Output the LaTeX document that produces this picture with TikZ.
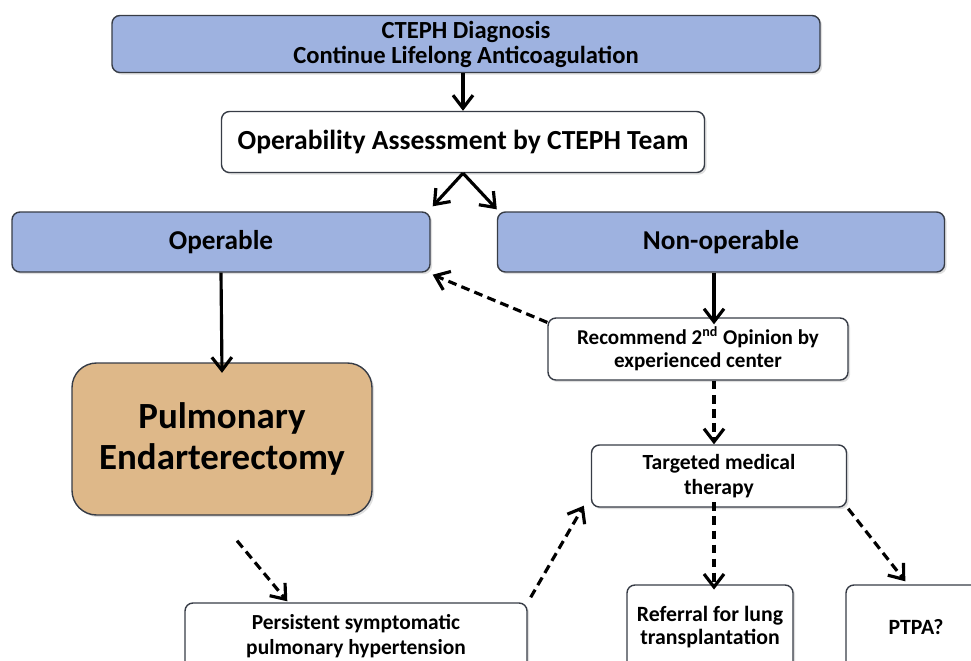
\documentclass[tikz,border=0pt]{standalone}
\usepackage{fontspec}
\setmainfont{Carlito}
\usetikzlibrary{arrows.meta,shadows}
\definecolor{BoxBlue}{RGB}{158,178,224}
\definecolor{BoxTan}{RGB}{222,184,137}
\definecolor{BoxEdge}{RGB}{55,60,70}
\newcommand{\lw}{1.8pt}

\begin{document}
\begin{tikzpicture}[x=0.02cm, y=-0.02cm,
  box/.style={draw=BoxEdge, line width=0.8pt, rounded corners=4.5pt, align=center,
    inner sep=0pt, drop shadow={shadow xshift=1.2pt, shadow yshift=-1.2pt, opacity=0.25}},
  bluebox/.style={box, fill=BoxBlue},
  whitebox/.style={box, fill=white},
  wh/.style 2 args={minimum width=#1*0.02cm, minimum height=#2*0.02cm},
  fs/.style 2 args={font=\bfseries\fontsize{#1}{#2}\selectfont},
  arr/.style={line width=\lw, -{Straight Barb[length=2.6mm,width=4mm]}},
  dasharr/.style={arr, dash pattern=on 5pt off 3pt}]
  \clip (0,0) rectangle (971,660);
  % top row
  \node[bluebox, wh={708}{57}, fs={14}{14.2}] (diag) at (466,44) {CTEPH Diagnosis\\Continue Lifelong Anticoagulation};
  \node[whitebox, wh={483}{61}, fs={15.7}{17}] (assess) at (463,142) {Operability Assessment by CTEPH Team};
  \node[bluebox, wh={418}{60}, fs={15.5}{17}] (oper) at (221,242) {Operable};
  \node[bluebox, wh={447}{60}, fs={15.5}{17}] (nonop) at (721,242) {Non-operable};
  % left branch
  \node[box, fill=BoxTan, rounded corners=14pt, wh={300}{152}, fs={21}{23.5}] (pea) at (222,439) {Pulmonary\\Endarterectomy};
  \node[whitebox, wh={342}{66}, fs={12.2}{14.2}] (persist) at (356,636) {Persistent symptomatic\\pulmonary hypertension};
  % right branch
  \coordinate (col) at (714,0);
  \node[whitebox, wh={300}{62}, fs={12}{13.2}] (second) at (698,349) {Recommend 2\textsuperscript{nd} Opinion by\\experienced center};
  \node[whitebox, wh={255}{62}, fs={12.3}{14}] (tmt) at (719,476) {Targeted medical\\therapy};
  \node[whitebox, wh={166}{84}, fs={12.4}{13.2}] (lung) at (710,627) {Referral for lung\\transplantation};
  \node[whitebox, wh={140}{84}, fs={12.4}{13.2}] (ptpa) at (916,627) {PTPA?};
  % solid arrows
  \draw[arr] (diag.south -| assess) -- (assess.north);
  \draw[arr] (assess.south) -- ([shift={(2,-5)}]oper.north east);
  \draw[arr] (assess.south) -- ([shift={(0,-2)}]nonop.north west);
  \draw[arr] (oper.south) -- ([yshift=-6]pea.north);
  \draw[arr] (nonop.south -| col) -- ([yshift=-4]second.north -| col);
  % dashed arrows
  \draw[dasharr] (second.170) -- ([shift={(2,2)}]oper.south east);
  \draw[dasharr] (second.south -| col) -- (tmt.north -| col);
  \draw[dasharr] ([shift={(15,25)}]pea.south) -- ([shift={(103,-1)}]persist.north west);
  \draw[dasharr] ([shift={(3,-5)}]persist.north east) -- ([shift={(-7,-2)}]tmt.south west);
  \draw[dasharr] ([yshift=3]tmt.south -| col) -- ([yshift=-3]lung.north -| col);
  \draw[dasharr] ([shift={(1,1)}]tmt.south east) -- ([shift={(60,-3)}]ptpa.north west);
\end{tikzpicture}
\end{document}
